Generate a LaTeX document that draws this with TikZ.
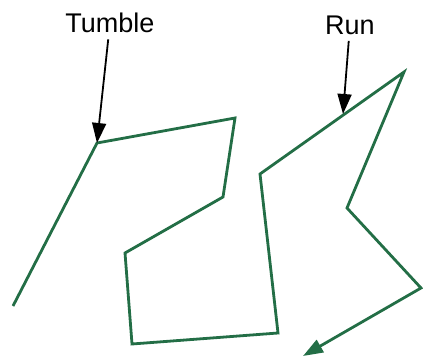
\documentclass[tikz,border=0pt]{standalone}
\usepackage{fontspec}
\setmainfont{Liberation Sans}
\usetikzlibrary{arrows.meta}
\definecolor{walkgreen}{RGB}{35,110,70}
\tikzset{
  walk/.style={walkgreen, line width=1.4pt, line join=miter},
  pointer/.style={-{Triangle[length=10pt,width=7pt]}, line width=0.9pt},
  lbl/.style={font=\fontsize{13.5}{16}\selectfont, inner sep=3pt}
}
\begin{document}
\begin{tikzpicture}[x=0.5pt, y=-0.5pt]
  \useasboundingbox (0,0) rectangle (423,358);
  \coordinate (start) at (13,306);
  \coordinate (tumblept) at (97,143);
  \coordinate (w1) at (235,118);
  \coordinate (w2) at (223,197);
  \coordinate (w3) at (125,253);
  \coordinate (w4) at (132,344);
  \coordinate (w5) at (278,333);
  \coordinate (w6) at (260,174);
  \coordinate (w7) at (404,72);
  \coordinate (w8) at (347,208);
  \coordinate (w9) at (421,288);
  \coordinate (finish) at (303,356);
  \coordinate (runpt) at (343,114);
  \draw[walk, -{Triangle[length=10pt,width=7pt]}] (start) -- (tumblept) -- (w1) -- (w2) -- (w3) -- (w4)
    -- (w5) -- (w6) -- (w7) -- (w8) -- (w9) -- (finish);
  \node[lbl] (tumble) at (110,23) {Tumble};
  \node[lbl] (run) at (350,25) {Run};
  \draw[pointer] (tumble) -- (tumblept);
  \draw[pointer] (run) -- (runpt);
\end{tikzpicture}
\end{document}
